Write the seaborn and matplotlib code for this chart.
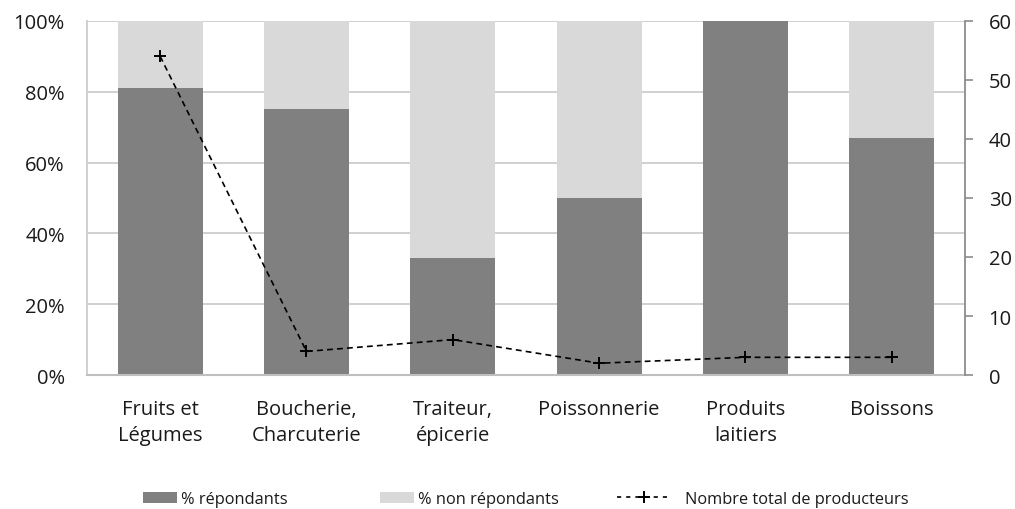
import matplotlib
matplotlib.use("Agg")
import matplotlib.pyplot as plt
from matplotlib.patches import Patch
from matplotlib.lines import Line2D
from matplotlib.ticker import PercentFormatter, MultipleLocator
import seaborn as sns
import pandas as pd

# Share of producers who answered the survey, by product type
categories = ["Fruits et\nLégumes", "Boucherie,\nCharcuterie", "Traiteur,\népicerie",
              "Poissonnerie", "Produits\nlaitiers", "Boissons"]
pct_respondents = [81, 75, 33, 50, 100, 67]
pct_non_respondents = [19, 25, 67, 50, 0, 33]
total_producers = [54, 4, 6, 2, 3, 3]

legend_labels = ["% répondants", "% non répondants", "Nombre total de producteurs"]

DARK = "#808080"
LIGHT = "#D9D9D9"
GRID = "#D0D0D0"
TEXT = "#1A1A1A"

sns.set_theme(style="white")
plt.rcParams["font.family"] = ["Open Sans", "DejaVu Sans"]

df = pd.DataFrame({
    "categorie": categories,
    "rep": pct_respondents,
    "total": [a + b for a, b in zip(pct_respondents, pct_non_respondents)],
})

fig = plt.figure(figsize=(10.15, 5.10), dpi=100)
ax = fig.add_axes([0.0857, 0.2627, 0.8650, 0.6943])

# stacked bars: full height in light grey, respondents on top of it in dark grey
sns.barplot(data=df, x="categorie", y="total", color=LIGHT, width=0.58,
            saturation=1, ax=ax, edgecolor="none")
sns.barplot(data=df, x="categorie", y="rep", color=DARK, width=0.58,
            saturation=1, ax=ax, edgecolor="none")

ax.set_ylim(0, 100)
ax.set_xlim(-0.5, len(categories) - 0.5)
ax.yaxis.set_major_locator(MultipleLocator(20))
ax.yaxis.set_major_formatter(PercentFormatter(decimals=0))
ax.set_axisbelow(True)
ax.grid(axis="y", color=GRID, linewidth=1.4)
ax.grid(axis="x", visible=False)
ax.set_xlabel("")
ax.set_ylabel("")
for side in ["top", "right"]:
    ax.spines[side].set_visible(False)
ax.spines["left"].set_color(GRID)
ax.spines["left"].set_linewidth(1.4)
ax.spines["bottom"].set_color("#BFBFBF")
ax.spines["bottom"].set_linewidth(1.5)
ax.tick_params(axis="y", length=0, pad=16, labelsize=14.5, labelcolor=TEXT)
ax.tick_params(axis="x", length=0, pad=17, labelsize=14.5, labelcolor=TEXT)
for lbl in ax.get_xticklabels():
    lbl.set_linespacing(1.45)

# secondary axis: total number of producers
ax2 = ax.twinx()
sns.pointplot(x=categories, y=total_producers, ax=ax2, color="black",
              marker="+", markersize=9, markeredgewidth=1.4,
              linestyle=(0, (3.5, 2.5)), linewidth=1.2, errorbar=None)
ax2.set_ylim(0, 60)
ax2.set_xlim(-0.5, len(categories) - 0.5)
ax2.yaxis.set_major_locator(MultipleLocator(10))
ax2.set_ylabel("")
ax2.grid(False)
for side in ["top", "left", "bottom"]:
    ax2.spines[side].set_visible(False)
ax2.spines["right"].set_color("#8C8C8C")
ax2.spines["right"].set_linewidth(1.3)
ax2.tick_params(axis="y", direction="out", length=6, width=1.2, color="#8C8C8C",
                pad=11, labelsize=14.5, labelcolor=TEXT, right=True)

# legend entries placed along the bottom edge
leg_kw = dict(frameon=False, loc="center left", borderpad=0, borderaxespad=0,
              fontsize=11.8, labelcolor=TEXT)
fig.legend(handles=[Patch(facecolor=DARK, edgecolor="none")], labels=[legend_labels[0]],
           bbox_to_anchor=(143 / 1015, 0.02), handlelength=2.05, handleheight=0.65,
           handletextpad=0.25, **leg_kw)
fig.legend(handles=[Patch(facecolor=LIGHT, edgecolor="none")], labels=[legend_labels[1]],
           bbox_to_anchor=(380 / 1015, 0.02), handlelength=2.05, handleheight=0.65,
           handletextpad=0.25, **leg_kw)
fig.legend(handles=[Line2D([], [], color="black", linestyle=(0, (2.5, 3)), linewidth=1.2,
                           marker="+", markersize=9, markeredgewidth=1.4)],
           labels=[legend_labels[2]],
           bbox_to_anchor=(617 / 1015, 0.02), handlelength=3.3,
           handletextpad=0.85, **leg_kw)

fig.savefig("out.png", dpi=100, facecolor="white")
